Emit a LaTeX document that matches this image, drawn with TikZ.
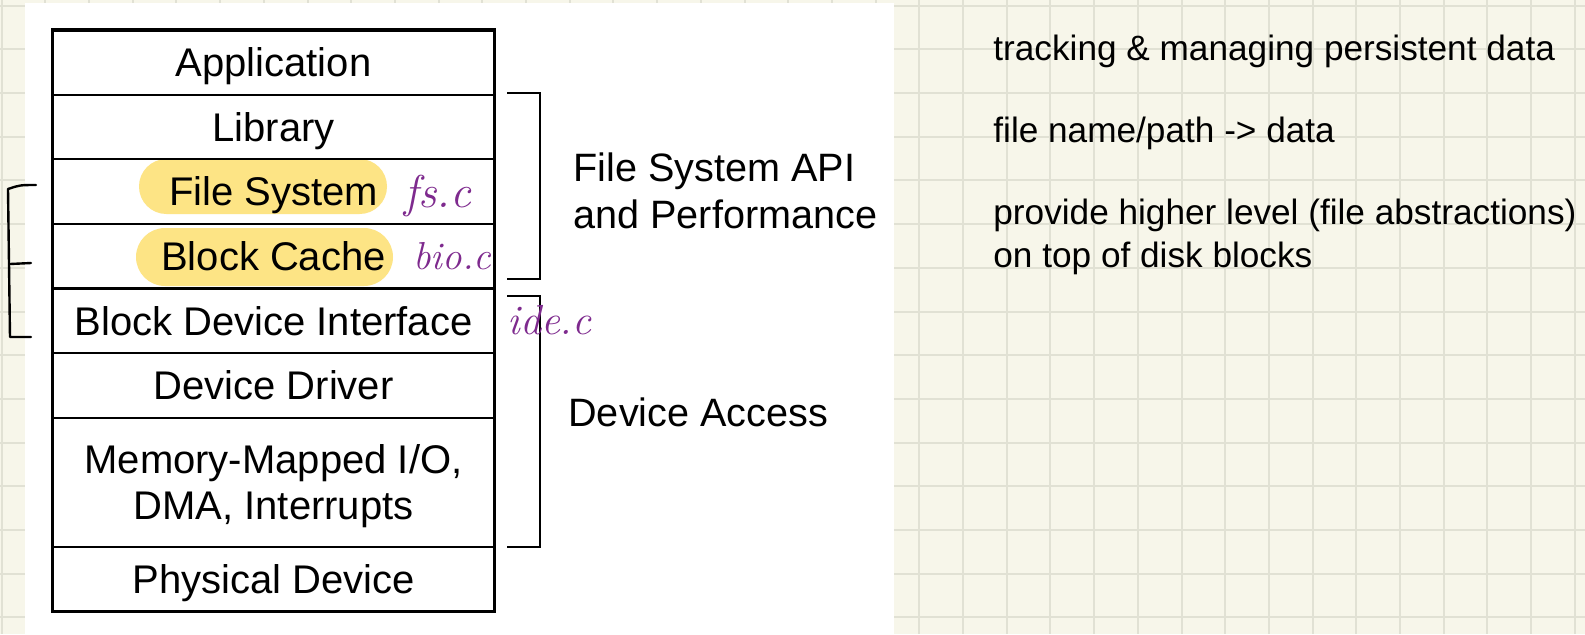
\documentclass[tikz,border=0pt]{standalone}
\usepackage{fontspec}
\newfontfamily\helv{Liberation Sans}
\usetikzlibrary{positioning}

\definecolor{paper}{RGB}{247,246,234}
\definecolor{gridgray}{RGB}{225,225,212}
\definecolor{marker}{RGB}{253,228,133}
\definecolor{ink}{RGB}{126,42,142}

\begin{document}
\begin{tikzpicture}[x=0.5pt, y=-0.5pt, line cap=round, line join=round]
\tikzset{
    gridline/.style={draw=gridgray, line width=1pt, line cap=butt},
    layer/.style={draw=black, line width=1.1pt, minimum width=221pt, minimum height=32.3pt,
        inner sep=0pt, outer sep=0pt, font=\helv\fontsize{20}{23}\selectfont,
        text height=14.3pt, text depth=0pt},
    twolayer/.style={layer, minimum height=64.6pt, align=center, text height=37.3pt},
    frame/.style={draw=black, line width=1.75pt, line join=miter},
    brace/.style={draw=black, line width=1pt, line cap=butt, line join=miter},
    pen/.style={draw=black, line width=1.2pt},
    hilite/.style={fill=marker},
    sidelabel/.style={anchor=base west, inner sep=0pt, align=left, font=\helv\fontsize{19.8}{23.5}\selectfont},
    note/.style={anchor=base west, inner sep=0pt, align=left, font=\helv\fontsize{17.6}{21.2}\selectfont},
    scribble/.style={anchor=base west, inner sep=0pt, text=ink, font=\itshape\fontsize{#1}{#1}\selectfont},
    scribble/.default=21
}
\useasboundingbox (0,0) rectangle (1585,634);
% notebook paper
\fill[paper] (0,0) rectangle (1585,634);
\foreach \k in {0,...,36}
    \draw[gridline] ({1.6+43.7*\k},0) -- ({1.6+43.7*\k},634);
\foreach \k in {0,...,14}
    \draw[gridline] (0,{5.6+43.7*\k}) -- (1585,{5.6+43.7*\k});
\fill[white] (25,3.3) rectangle (894,634);

% highlighter marks
\fill[hilite, rounded corners=13.7pt] (139,159) rectangle (387,214);
\fill[hilite, rounded corners=14.5pt] (136,228) rectangle (393,286);

% layer stack
\node[layer] (app) at (273.5,62.3) {Application};
\node[layer, below=0pt of app] (lib) {Library};
\node[layer, below=0pt of lib] (fs) {File System};
\node[layer, below=0pt of fs] (cache) {Block Cache};
\node[layer, below=0pt of cache] (bdi) {Block Device Interface};
\node[layer, below=0pt of bdi] (driver) {Device Driver};
\node[twolayer, below=0pt of driver] (mmio) {Memory-Mapped I/O,\\DMA, Interrupts};
\node[layer, below=0pt of mmio] (phys) {Physical Device};
\draw[frame] (app.north west) rectangle (phys.south east);

% brackets
\draw[brace] (507,93) -- (540,93) -- (540,279) -- (507,279);
\draw[brace] (507,296) -- (540,296) -- (540,547) -- (507,547);
\node[sidelabel] (fsapi) at (573,228) {File System API\\and Performance};
\node[sidelabel] (devacc) at (568,426) {Device Access};

% handwritten notes
\draw[pen] (36,185) .. controls (20,185) .. (8,189) -- (10,337) -- (31,337);
\draw[pen] (10,264) -- (31,263);
\node[scribble=23] (fsc) at (404,207) {fs.c};
\node[scribble=19.5] (bioc) at (413,269) {bio.c};
\node[scribble] (idec) at (507,334) {ide.c};

% notes on the right
\node[note] (track) at (993,60) {tracking \& managing persistent data};
\node[note] (path) at (993,142) {file name/path -> data};
\node[note] (higher) at (993,267) {provide higher level (file abstractions)\\on top of disk blocks};
\end{tikzpicture}
\end{document}
